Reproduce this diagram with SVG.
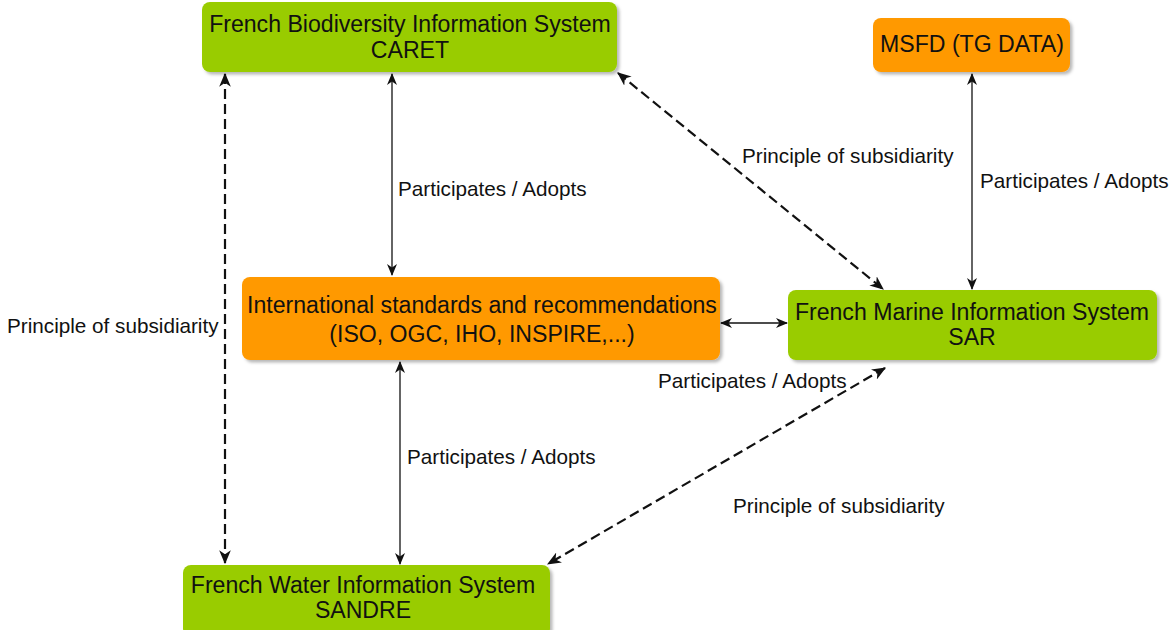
<svg xmlns="http://www.w3.org/2000/svg" width="1174" height="630" viewBox="0 0 1174 630">
  <style>
    .box-green { fill: #99cc00; }
    .box-orange { fill: #ff9900; }
    .node-text { font-family: "Liberation Sans", Arial, sans-serif; font-size: 23.1px; fill: #111111; text-anchor: middle; }
    .label { font-family: "Liberation Sans", Arial, sans-serif; font-size: 20.7px; fill: #111111; }
    .solid { stroke: #111111; stroke-width: 1.3; fill: none; marker-start: url(#arrow); marker-end: url(#arrow); }
    .dashed { stroke: #111111; stroke-width: 2.2; stroke-dasharray: 10 5; fill: none; marker-start: url(#arrowBig); marker-end: url(#arrowBig); }
  </style>
  <defs>
    <filter id="shadow" x="-5%" y="-10%" width="110%" height="130%">
      <feDropShadow dx="2.5" dy="2.5" stdDeviation="1.5" flood-color="#000000" flood-opacity="0.28"/>
    </filter>
    <marker id="arrow" viewBox="0 0 12 10" refX="11" refY="5" markerWidth="12" markerHeight="10" markerUnits="userSpaceOnUse" orient="auto-start-reverse">
      <path d="M0,0 L12,5 L0,10 L3.5,5 z" fill="#111111"/>
    </marker>
    <marker id="arrowBig" viewBox="0 0 12 10" refX="11" refY="5" markerWidth="14" markerHeight="12" markerUnits="userSpaceOnUse" orient="auto-start-reverse">
      <path d="M0,0 L12,5 L0,10 L3.5,5 z" fill="#111111"/>
    </marker>
  </defs>

  <rect width="1174" height="630" fill="#ffffff"/>

  <!-- connectors -->
  <g id="connectors">
    <line class="solid" x1="392" y1="74" x2="392" y2="275"/>
    <line class="solid" x1="972" y1="74" x2="972" y2="289"/>
    <line class="solid" x1="721" y1="323" x2="787" y2="323"/>
    <line class="solid" x1="400" y1="362" x2="400" y2="564"/>
    <line class="dashed" x1="225" y1="74" x2="225" y2="563"/>
    <line class="dashed" x1="618" y1="73" x2="883" y2="289"/>
    <line class="dashed" x1="885" y1="368" x2="548" y2="564"/>

    <text class="label" x="398" y="196">Participates / Adopts</text>
    <text class="label" x="980" y="188">Participates / Adopts</text>
    <text class="label" x="407" y="464">Participates / Adopts</text>
    <text class="label" x="658" y="388">Participates / Adopts</text>
    <text class="label" x="742" y="163">Principle of subsidiarity</text>
    <text class="label" x="7" y="333">Principle of subsidiarity</text>
    <text class="label" x="733" y="513">Principle of subsidiarity</text>
  </g>

  <!-- nodes -->
  <g id="caret">
    <rect class="box-green" x="202" y="2" width="415" height="70" rx="8" filter="url(#shadow)"/>
    <text class="node-text" x="410" y="32">French Biodiversity Information System</text>
    <text class="node-text" x="410" y="58">CARET</text>
  </g>

  <g id="msfd">
    <rect class="box-orange" x="873" y="18" width="197" height="54" rx="8" filter="url(#shadow)"/>
    <text class="node-text" x="972" y="52">MSFD (TG DATA)</text>
  </g>

  <g id="international">
    <rect class="box-orange" x="242" y="277" width="478" height="83" rx="8" filter="url(#shadow)"/>
    <text class="node-text" x="482" y="313">International standards and recommendations</text>
    <text class="node-text" x="482" y="342">(ISO, OGC, IHO, INSPIRE,...)</text>
  </g>

  <g id="sar">
    <rect class="box-green" x="788" y="290" width="369" height="70" rx="8" filter="url(#shadow)"/>
    <text class="node-text" x="972" y="320">French Marine Information System</text>
    <text class="node-text" x="972" y="345">SAR</text>
  </g>

  <g id="sandre">
    <rect class="box-green" x="183" y="565" width="367" height="72" rx="8" filter="url(#shadow)"/>
    <text class="node-text" x="363" y="593">French Water Information System</text>
    <text class="node-text" x="363" y="618">SANDRE</text>
  </g>
</svg>
